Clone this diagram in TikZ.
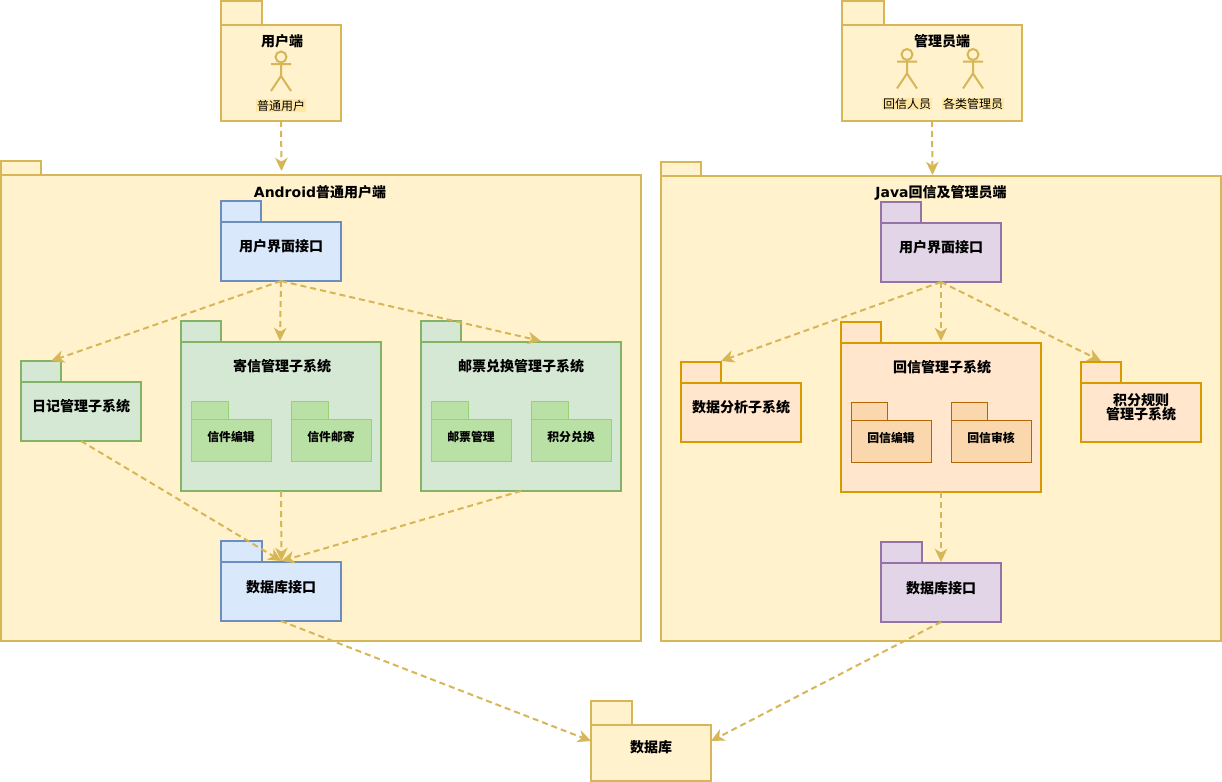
\documentclass[tikz,border=0pt]{standalone}
\usepackage{fontspec}
\usetikzlibrary{arrows.meta}
\setmainfont{Noto Sans CJK SC}
\newfontfamily\latinbold{DejaVu Sans}
\definecolor{yf}{HTML}{FFF2CC}\definecolor{ys}{HTML}{D6B656}
\definecolor{bf}{HTML}{DAE8FC}\definecolor{bs}{HTML}{6C8EBF}
\definecolor{gf}{HTML}{D5E8D4}\definecolor{gs}{HTML}{82B366}
\definecolor{pf}{HTML}{E1D5E7}\definecolor{ps}{HTML}{9673A6}
\definecolor{of}{HTML}{FFE6CC}\definecolor{os}{HTML}{D79B00}
\definecolor{lgf}{HTML}{B9E0A5}\definecolor{lgs}{HTML}{97D077}
\definecolor{lof}{HTML}{FAD7AC}\definecolor{los}{HTML}{B46504}
\definecolor{actbg}{HTML}{FFE7A6}
\tikzset{
  box/.style={draw,inner sep=0pt,outer sep=0pt,line width=1.5pt},
  yel/.style={box,draw=ys,fill=yf},
  blu/.style={box,draw=bs,fill=bf},
  grn/.style={box,draw=gs,fill=gf},
  pur/.style={box,draw=ps,fill=pf},
  org/.style={box,draw=os,fill=of},
  subg/.style={box,draw=lgs,fill=lgf,line width=.75pt},
  subo/.style={box,draw=los,fill=lof,line width=.75pt},
  ttl/.style={inner sep=0pt,font=\fontsize{10.5pt}{11pt}\selectfont\bfseries,align=center},
  smallttl/.style={inner sep=0pt,font=\fontsize{8.9pt}{10pt}\selectfont\bfseries},
  actlabel/.style={inner sep=.5pt,fill=actbg,font=\fontsize{9pt}{10pt}\selectfont},
  dep/.style={draw=ys,line width=1.5pt,dash pattern=on 4.5pt off 3pt,
    -{Stealth[length=10pt,width=9.5pt,inset=3pt,fill=ys,line width=0pt]}},
  actor/.style={draw=ys,line width=1.5pt,fill=none},
}
% \pkg{style}{name}{x}{tabtop}{tabright}{bodytop}{right}{bottom}
\newcommand{\pkg}[8]{%
  \pgfmathsetmacro{\tw}{(#5-#3)*.75}\pgfmathsetmacro{\th}{(#6-#4)*.75}%
  \pgfmathsetmacro{\bw}{(#7-#3)*.75}\pgfmathsetmacro{\bh}{(#8-#6)*.75}%
  \node[#1,minimum width=\tw pt,minimum height=\th pt] (#2tab) at ({(#3+#5)/2},{(#4+#6)/2}) {};
  \node[#1,minimum width=\bw pt,minimum height=\bh pt] (#2) at ({(#3+#7)/2},{(#6+#8)/2}) {};
}
% \actorfig{x}{y of head centre}{name}
\newcommand{\actorfig}[3]{%
  \node[draw=ys,line width=1.5pt,circle,minimum size=8.25pt,inner sep=0pt,outer sep=0pt,fill=yf] (#3) at (#1,#2) {};
  \draw[actor] (#3.south) -- (#1,#2+19) (#1-10,#2+7) -- (#1+10,#2+7) (#1-10,#2+34) -- (#1,#2+19) -- (#1+10,#2+34);
}
\begin{document}
\begin{tikzpicture}[x=.75pt,y=-.75pt]
\useasboundingbox (0,0) rectangle (1222,782);
\fill[white] (0,0) rectangle (1222,782);
% outer
\pkg{yel}{user}{221}{1}{262}{25}{341}{121}
\pkg{yel}{admin}{842}{1}{884}{25}{1022}{121}
\pkg{yel}{android}{1}{161}{41}{175}{641}{641}
\pkg{yel}{java}{661}{162}{701}{176}{1221}{641}
\pkg{yel}{db}{591}{701}{632}{725}{711}{781}
% android
\pkg{blu}{uia}{221}{201}{261}{222}{341}{281}
\pkg{grn}{diary}{21}{361}{61}{382}{141}{441}
\pkg{grn}{mail}{181}{321}{221}{342}{381}{491}
\pkg{subg}{mailedit}{191.5}{401.5}{228}{419.5}{271.5}{461.5}
\pkg{subg}{mailsend}{291.5}{401.5}{328}{419.5}{371.5}{461.5}
\pkg{grn}{stamp}{421}{321}{461}{342}{621}{491}
\pkg{subg}{stampman}{431.5}{401.5}{468}{419.5}{511.5}{461.5}
\pkg{subg}{points}{531.5}{401.5}{568}{419.5}{611.5}{461.5}
\pkg{blu}{dba}{221}{541}{262}{562}{341}{621}
% java
\pkg{pur}{uij}{881}{202}{921}{223}{1001}{282}
\pkg{org}{analysis}{681}{362}{721}{383}{801}{442}
\pkg{org}{reply}{841}{322}{881}{343}{1041}{492}
\pkg{subo}{replyedit}{851.5}{402.5}{887.5}{420.5}{931.5}{462.5}
\pkg{subo}{replyaudit}{951.5}{402.5}{987.5}{420.5}{1031.5}{462.5}
\pkg{org}{rules}{1081}{362}{1121}{383}{1201}{442}
\pkg{pur}{dbj}{881}{542}{922}{563}{1001}{622}
% actors
\actorfig{281}{57}{a1}
\actorfig{907}{54.5}{a2}
\actorfig{973}{54.5}{a3}
% titles
\node[ttl] (t1) at (282,41) {用户端};
\node[actlabel] (l1) at (281,105.5) {普通用户};
\node[ttl] (t2) at (942,41) {管理员端};
\node[actlabel] (l2) at (907,104) {回信人员};
\node[actlabel] (l3) at (973,104) {各类管理员};
\node[ttl] (t3) at (320,192) {{\latinbold\bfseries Android}普通用户端};
\node[ttl] (t4) at (941,193) {{\latinbold\bfseries Java}回信及管理员端};
\node[ttl] (t5) at (281,246) {用户界面接口};
\node[ttl] (t6) at (81,406) {日记管理子系统};
\node[ttl] (t7) at (282,366) {寄信管理子系统};
\node[smallttl] (t8) at (231,436.5) {信件编辑};
\node[smallttl] (t9) at (331,436.5) {信件邮寄};
\node[ttl] (t10) at (521,366) {邮票兑换管理子系统};
\node[smallttl] (t11) at (471,436.5) {邮票管理};
\node[smallttl] (t12) at (571,436.5) {积分兑换};
\node[ttl] (t13) at (281,587) {数据库接口};
\node[ttl] (t14) at (941,247) {用户界面接口};
\node[ttl] (t15) at (741,407) {数据分析子系统};
\node[ttl] (t16) at (942,367) {回信管理子系统};
\node[smallttl] (t17) at (891,437.5) {回信编辑};
\node[smallttl] (t18) at (991,437.5) {回信审核};
\node[ttl,font=\fontsize{10.5pt}{10.5pt}\selectfont\bfseries] (t19) at (1141,407.5) {积分规则\\管理子系统};
\node[ttl] (t20) at (941,588) {数据库接口};
\node[ttl] (t21) at (651,747) {数据库};
% connectors
\coordinate (androidin) at (281.5,171);
\coordinate (javain) at (932.5,175);
\coordinate (admout) at (932,121);
\coordinate (dbin) at (281.5,561);
\coordinate (rulesin) at (1101,361);
\draw[dep] (user.south) -- (androidin);
\draw[dep] (admout) -- (javain);
\draw[dep] (uia.south) -- ([xshift=7.5pt]diarytab.north);
\draw[dep] (uia.south) -- ([xshift=-.75pt,yshift=.75pt]mail.north);
\draw[dep] (uia.south) -- ([xshift=15pt,yshift=.75pt]stamp.north);
\draw[dep] (diary.south) -- (dbin);
\draw[dep] (mail.south) -- (dbin);
\draw[dep] (stamp.south) -- (dbin);
\draw[dep] (uij.south) -- ([yshift=.75pt]analysistab.north east);
\draw[dep] (uij.south) -- ([yshift=1.5pt]reply.north);
\draw[dep] (uij.south) -- (rulesin);
\draw[dep] (reply.south) -- ([yshift=.75pt]dbj.north);
\draw[dep] (dba.south) -- ([yshift=-12pt]db.north west);
\draw[dep] (dbj.south) -- ([yshift=-12pt]db.north east);
\end{tikzpicture}
\end{document}
